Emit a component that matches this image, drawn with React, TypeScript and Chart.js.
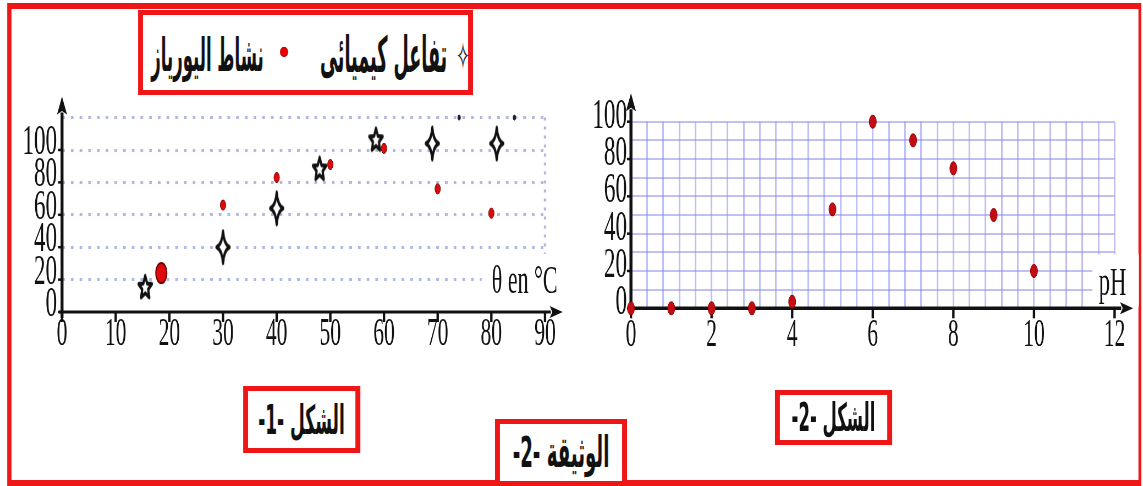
import React, { useEffect, useRef } from 'react';
import { Chart, registerables } from 'chart.js';

Chart.register(...registerables);

// ---------------- data ----------------
const tempReaction = [15.5, 30, 40, 48, 58.5, 69, 81];
const reactionRate = [15, 40, 64, 88, 106, 104, 104];
const tempUrease = [18.5, 30, 40, 50, 60, 70, 80];
const ureaseByTemp = [24, 66, 83, 91, 101, 76, 61];
const topMarksX = [74, 84.3];
const topMarksY = [120, 120];

const pHValues = [0, 1, 2, 3, 4, 5, 6, 7, 8, 9, 10];
const ureaseByPH = [0, 0, 0, 0, 3.5, 53, 100, 90, 75, 50, 20];

const xTicksTemp = [0, 10, 20, 30, 40, 50, 60, 70, 80, 90];
const yTicksTemp = [0, 20, 40, 60, 80, 100];
const yGridTemp = [0, 20, 40, 60, 80, 100, 120];
const xTicksPH = [0, 2, 4, 6, 8, 10, 12];
const yTicksPH = [0, 20, 40, 60, 80, 100];
const yGridPH = [0, 10, 20, 30, 40, 50, 60, 70, 80, 90, 100];
const pHGridStep = 0.4;

const legendReaction = 'تفاعل كيميائى';
const legendUrease = 'نشاط اليورياز';
const fig1Label = 'الشكل -1-';
const fig2Label = 'الشكل -2-';
const docLabel = 'الوثيقة -2-';
const tempAxisTitle = 'θ en °C';
const pHAxisTitle = 'pH';

// ---------------- layout helpers ----------------
const S = 0.55; // horizontal compression of the whole document
const u = (px: number) => px / S;
const RED = '#ee1616';
const SERIF = "'Liberation Serif', 'DejaVu Serif', serif";
const ARABIC = "'DejaVu Sans', sans-serif";

function makeSparkle(w: number, h: number) {
  const c = document.createElement('canvas');
  c.width = Math.ceil(w + 10);
  c.height = Math.ceil(h + 8);
  const g = c.getContext('2d')!;
  const cx = c.width / 2, cy = c.height / 2, W = w / 2, H = h / 2;
  const k = 0.16;
  g.beginPath();
  g.moveTo(cx, cy - H);
  g.quadraticCurveTo(cx + W * k, cy - H * k, cx + W, cy);
  g.quadraticCurveTo(cx + W * k, cy + H * k, cx, cy + H);
  g.quadraticCurveTo(cx - W * k, cy + H * k, cx - W, cy);
  g.quadraticCurveTo(cx - W * k, cy - H * k, cx, cy - H);
  g.closePath();
  g.fillStyle = '#fff';
  g.fill();
  g.lineWidth = 4;
  g.lineJoin = 'round';
  g.strokeStyle = '#111';
  g.stroke();
  return c;
}

function makeStar(rx: number, ry: number) {
  const c = document.createElement('canvas');
  c.width = Math.ceil(rx * 2 + 10);
  c.height = Math.ceil(ry * 2 + 8);
  const g = c.getContext('2d')!;
  const cx = c.width / 2, cy = c.height / 2;
  g.beginPath();
  for (let i = 0; i < 10; i++) {
    const a = -Math.PI / 2 + (i * Math.PI) / 5;
    const r = i % 2 ? 0.45 : 1;
    const px = cx + rx * r * Math.cos(a), py = cy + ry * r * Math.sin(a);
    if (i === 0) g.moveTo(px, py); else g.lineTo(px, py);
  }
  g.closePath();
  g.fillStyle = '#fff';
  g.fill();
  g.lineWidth = 4;
  g.lineJoin = 'round';
  g.strokeStyle = '#111';
  g.stroke();
  return c;
}

const decorPlugin = {
  id: 'decor',
  beforeDatasetsDraw(chart: any, _args: any, o: any) {
    const { ctx } = chart;
    const xs = chart.scales.x, ys = chart.scales.y;
    const X = (v: number) => xs.getPixelForValue(v);
    const Y = (v: number) => ys.getPixelForValue(v);
    ctx.save();
    if (o.mask) {
      const [x1, x2, y1, y2] = o.mask;
      ctx.fillStyle = '#fff';
      ctx.fillRect(X(x1), Y(y2), X(x2) - X(x1), Y(y1) - Y(y2));
    }
    if (o.vline) {
      ctx.strokeStyle = o.vline.color;
      ctx.lineWidth = o.vline.width;
      ctx.setLineDash(o.vline.dash);
      ctx.beginPath();
      ctx.moveTo(X(o.vline.x), Y(o.vline.from));
      ctx.lineTo(X(o.vline.x), Y(o.vline.to));
      ctx.stroke();
      ctx.setLineDash([]);
    }
    if (o.title) {
      ctx.font = o.title.font;
      ctx.fillStyle = '#111';
      ctx.textAlign = 'center';
      ctx.textBaseline = 'middle';
      ctx.fillText(o.title.text, X(o.title.x), Y(o.title.y));
    }
    const x0 = X(0), y0 = Y(0);
    ctx.strokeStyle = '#111';
    ctx.fillStyle = '#111';
    // x axis
    const xt = X(o.xTip);
    ctx.lineWidth = o.xAxisWidth;
    ctx.beginPath();
    ctx.moveTo(x0 - o.yAxisWidth, y0);
    ctx.lineTo(xt - o.xArrowLen + 2, y0);
    ctx.stroke();
    ctx.beginPath();
    ctx.moveTo(xt, y0);
    ctx.lineTo(xt - o.xArrowLen, y0 - o.xArrowHalf);
    ctx.lineTo(xt - o.xArrowLen * 0.8, y0);
    ctx.lineTo(xt - o.xArrowLen, y0 + o.xArrowHalf);
    ctx.closePath();
    ctx.fill();
    // y axis
    const yt = Y(o.yTip);
    ctx.lineWidth = o.yAxisWidth;
    ctx.beginPath();
    ctx.moveTo(x0, y0 + 6);
    ctx.lineTo(x0, yt + o.yArrowLen - 2);
    ctx.stroke();
    ctx.beginPath();
    ctx.moveTo(x0, yt);
    ctx.lineTo(x0 - o.yArrowHalf, yt + o.yArrowLen);
    ctx.lineTo(x0, yt + o.yArrowLen * 0.8);
    ctx.lineTo(x0 + o.yArrowHalf, yt + o.yArrowLen);
    ctx.closePath();
    ctx.fill();
    // tick marks
    ctx.lineWidth = o.xTickWidth;
    o.xTicks.forEach((v: number) => {
      ctx.beginPath();
      ctx.moveTo(X(v), y0);
      ctx.lineTo(X(v), y0 + o.xTickLen);
      ctx.stroke();
    });
    ctx.lineWidth = o.yTickWidth;
    o.yTicks.forEach((v: number) => {
      ctx.beginPath();
      ctx.moveTo(x0 - o.yTickLen, Y(v));
      ctx.lineTo(x0, Y(v));
      ctx.stroke();
    });
    ctx.restore();
  },
};

const DOT_GRID = 'rgb(178,184,228)';
const PH_GRID = 'rgba(140,140,240,0.55)';

const LEFT_W = Math.round(u(580));
const RIGHT_W = Math.round(u(563));

function App() {
  const leftRef = useRef<HTMLCanvasElement>(null);
  const rightRef = useRef<HTMLCanvasElement>(null);

  useEffect(() => {
    const sparkle = makeSparkle(u(13), 32);
    const star = makeStar(u(7), 12);
    const reactionStyles = [star, sparkle, sparkle, star, star, sparkle, sparkle];

    const commonDecor = {
      xArrowLen: u(13), xArrowHalf: 6,
      yArrowLen: 18, yArrowHalf: u(5),
      xTickLen: 10, xTickWidth: u(2.4),
      yTickLen: u(4), yTickWidth: 2.5,
      yAxisWidth: u(3),
    };

    const left = new Chart(leftRef.current!, {
      type: 'scatter',
      data: {
        datasets: [
          {
            label: legendUrease,
            data: tempUrease.map((x, i) => ({ x, y: ureaseByTemp[i] })),
            backgroundColor: '#dd0c0c',
            borderColor: '#7a0000',
            pointRadius: [10, 5, 5, 5, 5, 5, 5],
            pointBorderWidth: [2, 1, 1, 1, 1, 1, 1],
            clip: false,
          } as any,
          {
            label: legendReaction,
            data: tempReaction.map((x, i) => ({ x, y: reactionRate[i] })),
            pointStyle: reactionStyles,
            pointRadius: 10,
            clip: false,
          } as any,
          {
            label: 'marks',
            data: topMarksX.map((x, i) => ({ x, y: topMarksY[i] })),
            backgroundColor: '#222',
            borderColor: '#222',
            pointRadius: 2.5,
            clip: false,
          } as any,
        ],
      },
      options: {
        animation: false,
        responsive: false,
        events: [],
        layout: { padding: { left: 0, right: LEFT_W - u(545), top: 37.6, bottom: 0 } },
        plugins: {
          legend: { display: false },
          tooltip: { enabled: false },
          decor: {
            ...commonDecor,
            xTip: 93.3, yTip: 133,
            xAxisWidth: 3,
            xTicks: xTicksTemp, yTicks: yTicksTemp,
            vline: { x: 90, from: 120, to: 36, color: DOT_GRID, width: u(2.4), dash: [3, 6] },
            mask: [78.2, 96, 12, 27],
            title: { text: tempAxisTitle, x: 86.2, y: 18.5, font: `40px ${SERIF}` },
          },
        } as any,
        scales: {
          x: {
            type: 'linear', min: 0, max: 90,
            afterBuildTicks: (s: any) => { s.ticks = xTicksTemp.map((v) => ({ value: v })); },
            afterFit: (s: any) => { s.height = 38; },
            grid: { display: false, drawTicks: false },
            border: { display: false },
            ticks: { autoSkip: false, maxRotation: 0, padding: -1, color: '#111', font: { family: SERIF, size: 39 } },
          },
          y: {
            type: 'linear', min: 0, max: 120,
            afterBuildTicks: (s: any) => { s.ticks = yGridTemp.map((v) => ({ value: v })); },
            afterFit: (s: any) => { s.width = u(62); },
            grid: {
              drawTicks: false, lineWidth: 3,
              color: (c: any) => (c.tick && c.tick.value === 0 ? 'rgba(0,0,0,0)' : DOT_GRID),
            },
            border: { display: false, dash: [u(2.7), u(6)] },
            ticks: {
              autoSkip: false, padding: u(5), labelOffset: -7, color: '#111',
              font: { family: SERIF, size: 42 },
              callback: (v: any) => (yTicksTemp.includes(v) ? String(v) : ''),
            },
          },
        } as any,
      },
      plugins: [decorPlugin],
    });

    const pHGrid: number[] = [];
    for (let i = 0; i * pHGridStep <= 12 + 1e-9; i++) pHGrid.push(Math.round(i * pHGridStep * 10) / 10);

    const right = new Chart(rightRef.current!, {
      type: 'scatter',
      data: {
        datasets: [
          {
            label: legendUrease,
            data: pHValues.map((x, i) => ({ x, y: ureaseByPH[i] })),
            backgroundColor: '#c40d12',
            borderColor: '#8a0000',
            pointRadius: 6.5,
            pointBorderWidth: 1,
            clip: false,
          } as any,
        ],
      },
      options: {
        animation: false,
        responsive: false,
        events: [],
        layout: { padding: { left: 0, right: RIGHT_W - u(534.3), top: 41.7, bottom: 0 } },
        plugins: {
          legend: { display: false },
          tooltip: { enabled: false },
          decor: {
            ...commonDecor,
            xTip: 12.46, yTip: 115.2,
            xAxisWidth: 3.5,
            xTicks: xTicksPH, yTicks: yTicksPH,
            mask: [11.45, 12.6, 1, 29],
            title: { text: pHAxisTitle, x: 11.95, y: 13, font: `41px ${SERIF}` },
          },
        } as any,
        scales: {
          x: {
            type: 'linear', min: 0, max: 12,
            afterBuildTicks: (s: any) => { s.ticks = pHGrid.map((v) => ({ value: v })); },
            afterFit: (s: any) => { s.height = 41.7; },
            grid: {
              drawTicks: false, lineWidth: u(1.7),
              color: (c: any) => (c.tick && c.tick.value === 0 ? 'rgba(0,0,0,0)' : PH_GRID),
            },
            border: { display: false },
            ticks: {
              autoSkip: false, maxRotation: 0, padding: 4, color: '#111',
              font: { family: SERIF, size: 39 },
              callback: (v: any) => (xTicksPH.includes(v) ? String(v) : ''),
            },
          },
          y: {
            type: 'linear', min: 0, max: 100,
            afterBuildTicks: (s: any) => { s.ticks = yGridPH.map((v) => ({ value: v })); },
            afterFit: (s: any) => { s.width = u(50.7); },
            grid: {
              drawTicks: false, lineWidth: 2,
              color: (c: any) => (c.tick && c.tick.value === 0 ? 'rgba(0,0,0,0)' : PH_GRID),
            },
            border: { display: false },
            ticks: {
              autoSkip: false, padding: u(4), labelOffset: -5, color: '#111',
              font: { family: SERIF, size: 42 },
              callback: (v: any) => (yTicksPH.includes(v) ? String(v) : ''),
            },
          },
        } as any,
      },
      plugins: [decorPlugin],
    });

    return () => {
      left.destroy();
      right.destroy();
    };
  }, []);

  const box = (l: number, t: number, r: number, b: number, bw: number, extra: any = {}) => ({
    position: 'absolute' as const,
    left: u(l), top: t, width: u(r - l), height: b - t,
    boxSizing: 'border-box' as const,
    borderStyle: 'solid', borderColor: RED,
    borderLeftWidth: u(bw), borderRightWidth: u(bw), borderTopWidth: bw, borderBottomWidth: bw,
    background: '#fff',
    ...extra,
  });

  const arabic = (size: number, sy: number) => ({
    fontFamily: ARABIC, fontWeight: 700, fontSize: size, color: '#111',
    direction: 'rtl' as const, whiteSpace: 'nowrap' as const,
    display: 'inline-block', transform: `scaleY(${sy})`, transformOrigin: '50% 50%',
  });

  return (
    <div style={{ position: 'fixed', left: 0, top: 0, width: 1143, height: 486, overflow: 'hidden', background: '#fff' }}>
      <div style={{ position: 'absolute', left: 0, top: 0, width: u(1143), height: 486, transform: `scaleX(${S})`, transformOrigin: '0 0' }}>
        {/* outer frame */}
        <div style={{
          position: 'absolute', left: u(7), top: 3, width: u(1134), height: 483, boxSizing: 'border-box',
          borderStyle: 'solid', borderColor: RED,
          borderLeftWidth: u(4.5), borderRightWidth: u(3), borderTopWidth: 6, borderBottomWidth: 6,
        }} />

        <canvas ref={leftRef} width={LEFT_W} height={270} style={{ position: 'absolute', left: 0, top: 80, width: LEFT_W, height: 270 }} />
        <canvas ref={rightRef} width={RIGHT_W} height={270} style={{ position: 'absolute', left: u(580), top: 80, width: RIGHT_W, height: 270 }} />

        {/* legend */}
        <div style={box(138, 10, 473, 95, 5)} />
        <div style={{ position: 'absolute', left: u(150), top: 30, width: u(115), height: 50, lineHeight: '50px', textAlign: 'center' }}>
          <span style={arabic(30, 1.55)}>{legendUrease}</span>
        </div>
        <div style={{ position: 'absolute', left: u(280), top: 47, width: u(8), height: 10, borderRadius: '50%', background: '#e00', boxSizing: 'border-box', border: '1px solid #900' }} />
        <div style={{ position: 'absolute', left: u(320), top: 30, width: u(125), height: 50, lineHeight: '50px', textAlign: 'center' }}>
          <span style={arabic(32, 1.55)}>{legendReaction}</span>
        </div>
        <div style={{ position: 'absolute', left: u(452), top: 42, width: u(22), height: 30, lineHeight: '30px', textAlign: 'center' }}>
          <span style={{ display: 'inline-block', fontFamily: ARABIC, fontSize: 28, color: '#111', transform: 'scaleY(1.4)' }}>✧</span>
        </div>

        {/* figure captions */}
        <div style={box(243, 386, 360, 453, 5, { display: 'flex', alignItems: 'center', justifyContent: 'center' })}>
          <span style={arabic(31, 1.3)}>{fig1Label}</span>
        </div>
        <div style={box(775, 390, 892, 445, 5, { display: 'flex', alignItems: 'center', justifyContent: 'center' })}>
          <span style={arabic(30, 1.3)}>{fig2Label}</span>
        </div>
        <div style={box(495, 419, 627, 486, 5, { display: 'flex', alignItems: 'center', justifyContent: 'center' })}>
          <span style={arabic(33, 1.3)}>{docLabel}</span>
        </div>
      </div>
    </div>
  );
}

export default App;
